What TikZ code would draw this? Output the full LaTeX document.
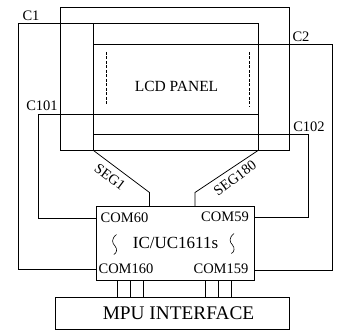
\documentclass[tikz,border=0pt]{standalone}
\usepackage{fontspec}
\setmainfont{Liberation Serif}
\usetikzlibrary{positioning}

\tikzset{
	line/.style={line width=0.75pt},
	label/.style={font=\fontsize{14.5}{16}\selectfont, inner sep=0pt},
	box/.style={draw, line width=0.75pt, inner sep=0pt},
	wiggle/.pic={\draw[line width=0.6pt] (1.5,-8.5) .. controls (-4,-4) and (-3,0) .. (0,3) .. controls (2.5,6) and (2,10) .. (-1.2,11.5);},
}

\begin{document}
\begin{tikzpicture}[x=1pt,y=-1pt]
		\useasboundingbox (0,0) rectangle (338,334);
		% panel frames
		\coordinate (A) at (93.5,150.5);
		\coordinate (B) at (258,150.5);
		\draw[line] (60.5,150.5) rectangle (289,7);
		\draw[line] (A) -- (93.5,23.5);
		\draw[line] (B) -- (258,23.5);
		\node[box, minimum width=158pt, minimum height=73.5pt] (chip) at (175,243.25) {};
		\node[box, minimum width=234pt, minimum height=32.5pt] (mpu) at (172.5,313.25) {};
		% common lines
		\draw[line] (258,23.5) -- (18,23.5) -- (18,269) -- (chip.west |- 0,269);
		\draw[line] (93.5,44) -- (332.5,44) -- (332.5,270) -- (chip.east |- 0,270);
		\draw[line] (258,114.5) -- (38,114.5) -- (38,218) -- (chip.west |- 0,218);
		\draw[line] (93.5,134.5) -- (308,134.5) -- (308,217) -- (chip.east |- 0,217);
		% segment lines
		\draw[line] (A) -- (149.5,192.5) -- (149.5,0 |- chip.north);
		\draw[line] (B) -- (195,192.5) -- (195,0 |- chip.north);
		\draw[line, dash pattern=on 3pt off 1.5pt] (106.7,52) -- (106.7,106);
		\draw[line, dash pattern=on 3pt off 1.5pt] (249.3,52) -- (249.3,107.5);
		% interface
		\foreach \x in {117.5,130.5,143.5,205.5,218.5,231.5}
			\draw[line] (\x,0 |- chip.south) -- (\x,0 |- mpu.north);
		% labels
		\node[label, font=\fontsize{19.3}{22}\selectfont] (mputext) at (178.5,313.25) {MPU INTERFACE};
		\node[label] (c1) at (31,16) {C1};
		\node[label] (c2) at (301,37) {C2};
		\node[label] (c101) at (42,106) {C101};
		\node[label] (c102) at (309,126.5) {C102};
		\node[label, font=\fontsize{15.5}{17}\selectfont] (lcd) at (176.5,86.5) {LCD PANEL};
		\node[label, rotate=-37] (seg1) at (110,177) {SEG1};
		\node[label, rotate=37] (seg180) at (235,178) {SEG180};
		\node[label] (com60) at (124.5,218) {COM60};
		\node[label] (com59) at (225,217) {COM59};
		\node[label] (com160) at (126,269) {COM160};
		\node[label] (com159) at (221,269) {COM159};
		\node[label, font=\fontsize{17}{19}\selectfont] (ic) at (175.5,243) {IC/UC1611s};
		\pic at (115,243) {wiggle};
		\pic at (232.5,242) {wiggle};
	\end{tikzpicture}
\end{document}
